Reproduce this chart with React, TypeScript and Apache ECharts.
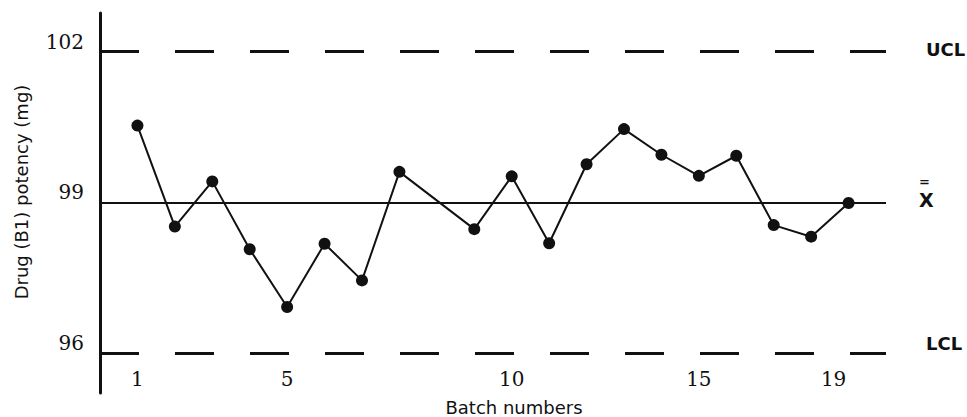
import React, { useEffect, useRef } from "react";
import * as echarts from "echarts";

// Batch numbers and their potency readings (mg)
const batches = [1, 2, 3, 4, 5, 6, 7, 8, 9, 10, 11, 12, 13, 14, 15, 16, 17, 18, 19];
// horizontal slot each batch occupies on the original chart (a gap follows batch 8)
const slots = [1, 2, 3, 4, 5, 6, 7, 8, 10, 11, 12, 13, 14, 15, 16, 17, 18, 19, 20];
const potency = [
  100.53, 98.52, 99.42, 98.07, 96.92, 98.18, 97.45, 99.61, 98.47, 99.52,
  98.19, 99.76, 100.46, 99.95, 99.53, 99.93, 98.55, 98.32, 98.99,
];

const ucl = 102;
const mean = 99;
const lcl = 96;

const yTickValues = [96, 99, 102];
const xTickLabels = ["1", "5", "10", "15", "19"];
const xTickSlots = [1, 5, 11, 16, 19.6];

export default function App() {
  const ref = useRef<HTMLDivElement>(null);

  useEffect(() => {
    if (!ref.current) return;
    const chart = echarts.init(ref.current, null, { renderer: "svg" });
    const black = "#111";
    const dashed = { color: black, width: 3, type: [39, 36] as any };
    const txt = { fontWeight: "bold" as const, color: black, fontFamily: "DejaVu Sans", fontSize: 18 };
    const sideLabel = {
      show: true,
      position: "end" as const,
      distance: 40,
      color: black,
      fontFamily: "DejaVu Sans",
      fontWeight: "bold" as const,
      fontSize: 18,
      align: "left" as const,
    };
    chart.setOption({
      animation: false,
      backgroundColor: "#fff",
      grid: {
        left: 100,
        right: 81,
        top: 13,
        bottom: 24,
        containLabel: false,
        outerBoundsMode: "none",
      },
      xAxis: {
        type: "value",
        min: 0,
        max: 21,
        axisLine: { show: false },
        axisTick: { show: false },
        splitLine: { show: false },
        axisLabel: {
          customValues: xTickSlots,
          formatter: (v: number) => {
            const i = xTickSlots.findIndex((s) => Math.abs(s - v) < 1e-6);
            return i >= 0 ? xTickLabels[i] : "";
          },
          margin: -24,
          color: black,
          fontFamily: "DejaVu Serif",
          fontSize: 20,
          lineHeight: 20,
        },
        name: "Batch numbers",
        nameLocation: "middle",
        nameGap: 5,
        nameTextStyle: {
          color: black,
          fontFamily: "DejaVu Sans",
          fontSize: 18,
          lineHeight: 18,
          padding: [0, 0, 0, 42],
        },
      },
      yAxis: {
        type: "value",
        min: 95.21,
        max: 102.77,
        axisLine: { show: true, lineStyle: { color: black, width: 3 } },
        axisTick: { show: false },
        splitLine: { show: false },
        axisLabel: {
          customValues: yTickValues,
          margin: 16,
          verticalAlign: "bottom",
          lineHeight: 20,
          color: black,
          fontFamily: "DejaVu Serif",
          fontSize: 20,
        },
        name: "Drug (B1) potency (mg)",
        nameLocation: "middle",
        nameRotate: 90,
        nameGap: 70,
        nameTextStyle: {
          color: black,
          fontFamily: "DejaVu Sans",
          fontSize: 18,
          padding: [0, 0, 0, 22],
        },
      },
      series: [
        {
          type: "line",
          data: batches.map((b, i) => [slots[i], potency[i]]),
          symbol: "circle",
          symbolSize: 12,
          lineStyle: { color: black, width: 2 },
          itemStyle: { color: black },
          z: 3,
          markLine: {
            silent: true,
            symbol: ["none", "none"],
            animation: false,
            data: [
              {
                yAxis: ucl,
                lineStyle: dashed,
                label: {
                  ...sideLabel,
                  formatter: "{a|UCL}\n{b| }",
                  rich: { a: { ...txt, lineHeight: 20 }, b: { ...txt, lineHeight: 5 } },
                },
              },
              {
                yAxis: mean,
                lineStyle: { color: black, width: 2, type: "solid" },
                label: {
                  ...sideLabel,
                  distance: 33,
                  formatter: "{e|=}\n{x|X}",
                  padding: [0, 0, 21, 0],
                  rich: {
                    e: { ...txt, fontSize: 13, lineHeight: 16 },
                    x: { ...txt, fontSize: 19, lineHeight: 20 },
                  },
                },
              },
              {
                yAxis: lcl,
                lineStyle: dashed,
                label: {
                  ...sideLabel,
                  formatter: "{a|LCL}\n{b| }",
                  rich: { a: { ...txt, lineHeight: 20 }, b: { ...txt, lineHeight: 20 } },
                },
              },
            ],
          },
        },
      ],
    });
    return () => chart.dispose();
  }, []);

  return (
    <div
      ref={ref}
      style={{ position: "fixed", left: 0, top: 0, width: 967, height: 417, background: "#fff" }}
    />
  );
}
